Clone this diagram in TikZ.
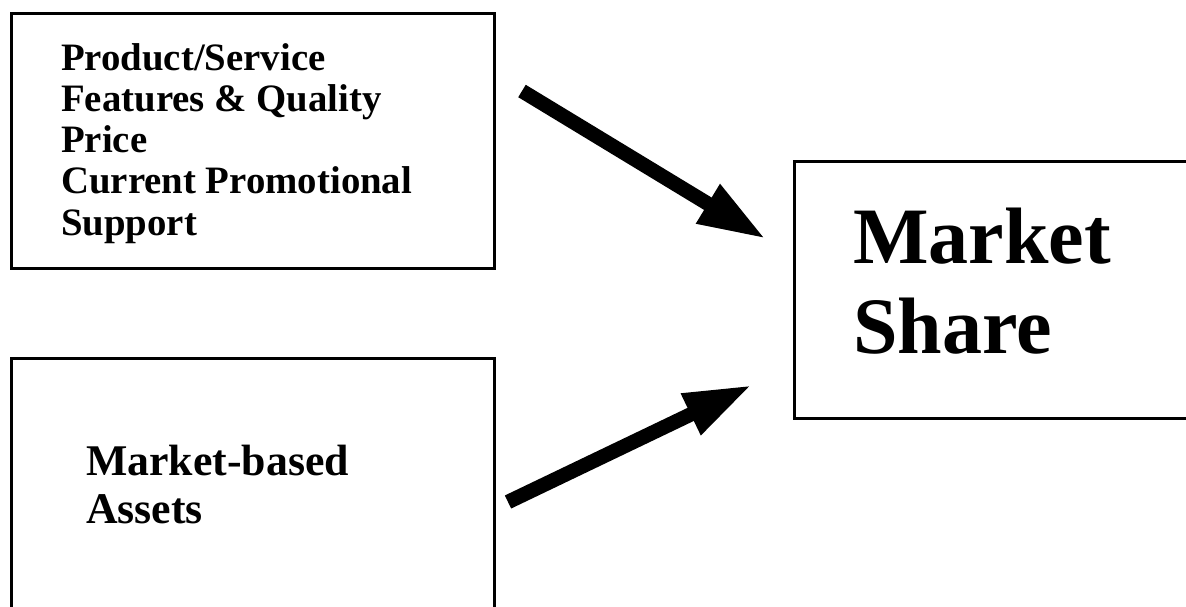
\documentclass[tikz,border=0pt]{standalone}
\usepackage{fontspec}
\setmainfont{Liberation Serif}
\usetikzlibrary{arrows.meta}
\begin{document}
\begin{tikzpicture}[x=1pt,y=-1pt,
  box/.style={draw=black,line width=3pt,inner sep=0pt},
  fat/.style={line width=14.5pt,-{Triangle[length=68pt,width=42pt]}},
  small/.style={font=\bfseries\fontsize{38.8}{41.25}\selectfont,align=left,inner sep=0pt,anchor=base west},
  mid/.style={font=\bfseries\fontsize{43.8}{48}\selectfont,align=left,inner sep=0pt,anchor=base west},
  big/.style={font=\bfseries\fontsize{80}{90}\selectfont,align=left,inner sep=0pt,anchor=base west}]
\useasboundingbox (0,0) rectangle (1186,607);
\draw[fill=white,draw=none] (0,0) rectangle (1186,607);
\node[box,minimum width=483pt,minimum height=255pt,anchor=north west] (b1) at (10,12) {};
\node[box,minimum width=483pt,minimum height=260pt,anchor=north west] (b2) at (10,357) {};
\node[box,minimum width=400pt,minimum height=257pt,anchor=north west] (b3) at (793,160) {};
\node[small] (t1) at (61,235) {Product/Service\\Features \& Quality\\Price\\Current Promotional\\Support};
\node[mid] (t2) at (86,523) {Market-based\\Assets};
\node[big] (t3) at (853,353) {Market\\Share};
\coordinate (a1s) at (522,91);
\coordinate (a1e) at (766,239);
\coordinate (a2s) at (508,502);
\coordinate (a2e) at (752,385);
\draw[fat] (a1s) -- (a1e);
\draw[fat] (a2s) -- (a2e);
\end{tikzpicture}
\end{document}
